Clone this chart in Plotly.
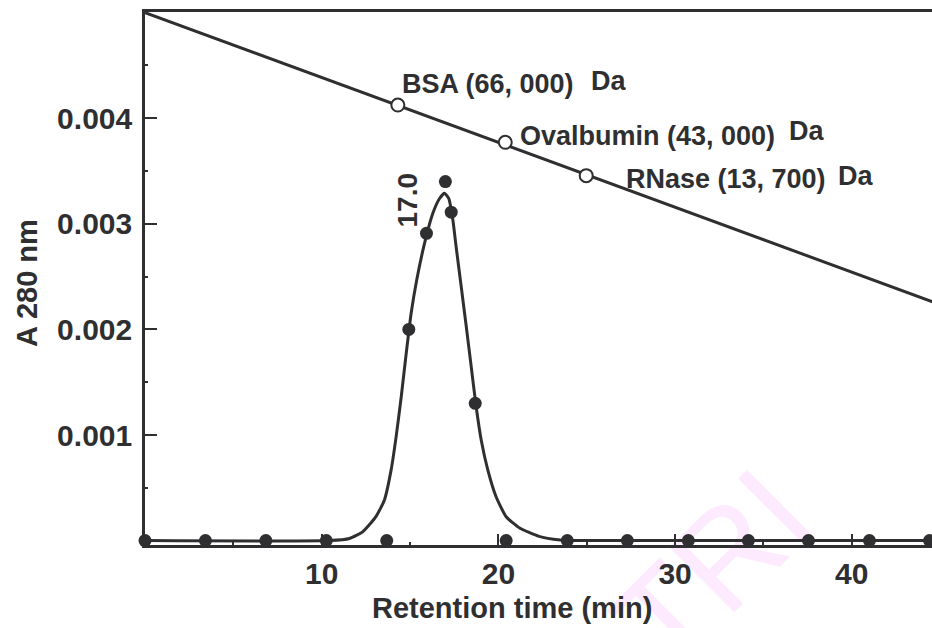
import plotly.graph_objects as go

# ---------------- data ----------------
# fraction dots (retention time, A280)
dot_x = [0, 3.42, 6.84, 10.26, 13.68, 14.93, 15.93, 17.0, 17.33, 18.69, 20.44,
         23.9, 27.3, 30.75, 34.15, 37.55, 41.0, 44.4]
dot_y = [0, 0, 0, 0, 0, 0.0020, 0.00291, 0.0034, 0.00311, 0.0013, 0,
         0, 0, 0, 0, 0, 0, 0]

# fitted elution curve
fit_x = [0, 10.44, 11.57, 12.33, 13.08, 13.55, 13.93, 14.21, 14.5, 14.74, 15.06,
         15.38, 15.82, 16.29, 16.67, 16.95, 17.19, 17.42, 17.61, 17.9, 18.18,
         18.46, 18.74, 19.03, 19.4, 19.87, 20.44, 21.2, 22.3, 23.5, 24.0, 44.6]
fit_y = [0, 0, 0.00002, 0.000085, 0.00023, 0.000385, 0.00067, 0.00098, 0.00136,
         0.00171, 0.00215, 0.00247, 0.002815, 0.0031, 0.00324, 0.00329, 0.00324,
         0.00304, 0.00278, 0.0024, 0.00203, 0.00165, 0.00127, 0.00095, 0.00067,
         0.000415, 0.000226, 0.00012, 0.00004, 0.000005, 0, 0]

# calibration line and standards
cal_x = [0, 44.6]
cal_y = [0.005, 0.00226]
std_x = [14.31, 20.39, 24.97]
std_y = [0.004125, 0.003772, 0.003456]
std_names = ["BSA (66, 000)", "Ovalbumin (43, 000)", "RNase (13, 700)"]
std_unit = "Da"
peak_label = "17.0"

x_ticks = [10, 20, 30, 40]
y_ticks = [0.001, 0.002, 0.003, 0.004]
y_ticklabels = ["0.001", "0.002", "0.003", "0.004"]

# ---------------- style / layout ----------------
W, H = 932, 628
ML, MR, MT, MB = 145, 0, 12, 83
PW, PH = W - ML - MR, H - MT - MB
INK = "#2f2f31"
FONT = "Liberation Sans, Arial, Helvetica, sans-serif"


def px(xp):
    return (xp - ML) / PW


def py(yp):
    return (H - MB - yp) / PH


fig = go.Figure()

fig.add_trace(go.Scatter(x=cal_x, y=cal_y, mode="lines",
                         line=dict(color=INK, width=3), hoverinfo="skip"))
fig.add_trace(go.Scatter(x=fit_x, y=fit_y, mode="lines",
                         line=dict(color=INK, width=3, shape="spline", smoothing=0.5),
                         hoverinfo="skip"))
fig.add_trace(go.Scatter(x=dot_x, y=dot_y, mode="markers", cliponaxis=False,
                         marker=dict(color=INK, size=13, line=dict(width=0))))
fig.add_trace(go.Scatter(x=std_x, y=std_y, mode="markers", cliponaxis=False,
                         marker=dict(color="white", size=13, line=dict(color=INK, width=2))))

annots = []
lab_pos = [(400, 84), (518, 135.5), (624, 179)]
da_pos = [(589, 81), (787, 131), (836, 176)]
for name, (lx, ly), (dx, dy) in zip(std_names, lab_pos, da_pos):
    annots.append(dict(x=px(lx), y=py(ly), xref="paper", yref="paper", text=name,
                       showarrow=False, xanchor="left", yanchor="middle",
                       font=dict(family=FONT, size=27, color=INK, weight="bold")))
    annots.append(dict(x=px(dx), y=py(dy), xref="paper", yref="paper", text=std_unit,
                       showarrow=False, xanchor="left", yanchor="middle",
                       font=dict(family=FONT, size=27, color=INK, weight="bold")))
annots.append(dict(x=px(407.5), y=py(200), xref="paper", yref="paper", text=peak_label,
                   showarrow=False, textangle=-90, xanchor="center", yanchor="middle",
                   font=dict(family=FONT, size=28, color=INK, weight="bold")))
annots.append(dict(x=px(512), y=py(608), xref="paper", yref="paper",
                   text="Retention time (min)", showarrow=False,
                   xanchor="center", yanchor="middle",
                   font=dict(family=FONT, size=29, color=INK, weight="bold")))
annots.append(dict(x=px(27), y=py(283), xref="paper", yref="paper",
                   text="A 280 nm", showarrow=False, textangle=-90,
                   xanchor="center", yanchor="middle",
                   font=dict(family=FONT, size=29, color=INK, weight="bold")))

# light watermark, drawn beneath the data
wx, wy = 703, 560
fig.add_shape(type="rect", xref="paper", yref="paper",
              x0=px(wx - 50), x1=px(wx + 50), y0=py(wy + 50), y1=py(wy - 50),
              line=dict(width=0), fillcolor="rgba(0,0,0,0)", layer="below",
              label=dict(text="TRI", textangle=-45, textposition="middle center",
                         font=dict(family=FONT, size=133, color="#feeafe")))

fig.update_layout(
    width=W, height=H,
    margin=dict(l=ML, r=MR, t=MT, b=MB, pad=0),
    paper_bgcolor="white", plot_bgcolor="white",
    showlegend=False,
    annotations=annots,
    xaxis=dict(range=[0, 44.54], tickvals=x_ticks, ticks="inside", ticklen=11,
               tickwidth=2, tickcolor=INK, showline=True, linecolor=INK, linewidth=2.6,
               mirror=True, showgrid=False, zeroline=False,
               minor=dict(tickvals=[5, 15, 25, 35], ticks="inside", ticklen=3,
                          tickwidth=1.5, tickcolor=INK),
               tickfont=dict(family=FONT, size=30, color=INK, weight="bold"),
               ticklabelstandoff=0),
    yaxis=dict(range=[-0.0000417, 0.005006], tickvals=y_ticks, ticktext=y_ticklabels,
               ticks="inside", ticklen=12, tickwidth=2.4, tickcolor=INK,
               showline=True, linecolor=INK, linewidth=2.6, mirror=False,
               showgrid=False, zeroline=False,
               minor=dict(tickvals=[0.0005, 0.0015, 0.0025, 0.0035, 0.0045],
                          ticks="inside", ticklen=3, tickwidth=1.5, tickcolor=INK),
               tickfont=dict(family=FONT, size=30, color=INK, weight="bold"),
               ticklabelstandoff=4),
)

fig.write_html("out.html")
